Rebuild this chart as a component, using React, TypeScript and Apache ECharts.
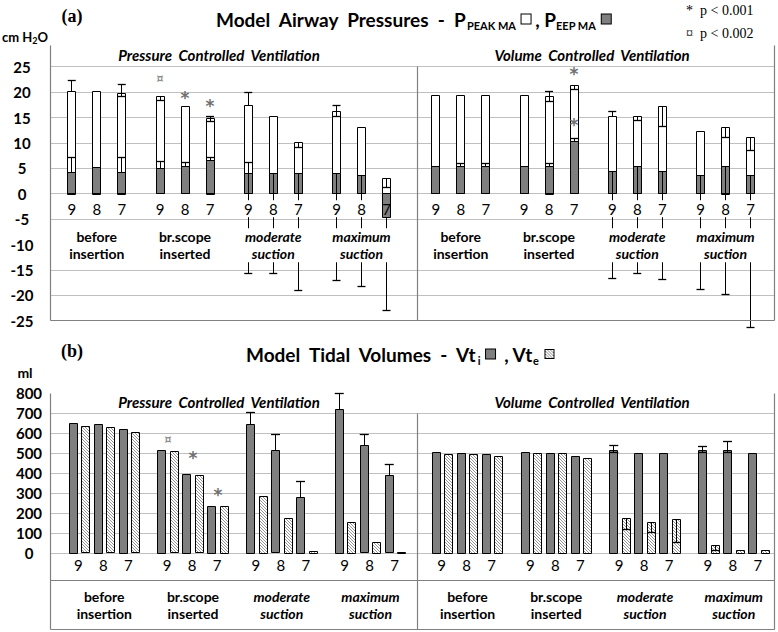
import React, { useEffect, useRef } from 'react';
import * as echarts from 'echarts';

const FONT = 'Lato, "Noto Sans", sans-serif';
const SERIF = '"Liberation Serif", "DejaVu Serif", serif';

// ---------- categories ----------
const modes = ['Pressure  Controlled  Ventilation', 'Volume  Controlled  Ventilation'];
const phases = ['before\ninsertion', 'br.scope\ninserted', 'moderate\nsuction', 'maximum\nsuction'];
const phaseItalic = [false, false, true, true];
const settings = ['9', '8', '7'];

// ---------- (a) airway pressures, cm H2O (phase x setting 9,8,7) ----------
const pcvPeak = [20.2, 20.2, 19.8, 19.1, 17.2, 14.9, 17.3, 15.1, 10.1, 16.1, 13.0, 3.0];
const pcvPeakLo = [null, null, 19.2, 18.4, null, 14.3, null, null, 9.0, 15.2, null, 1.2];
const pcvPeakHi = [22.3, null, 21.4, null, null, 15.1, 20.0, null, null, 17.4, null, null];
const pcvPeep = [4.2, 5.2, 4.1, 4.9, 5.3, 6.5, 4.0, 4.0, 4.0, 4.0, 3.5, -4.8];
const pcvPeepLo = [null, null, null, null, null, null, -15.8, -15.8, -19.0, -17.1, -18.3, -23.0];
const pcvPeepHi = [7.2, null, 7.1, 6.3, 6.2, 7.2, 6.2, null, null, null, null, null];

const vcvPeak = [19.3, 19.3, 19.3, 19.3, 19.2, 21.3, 15.2, 15.1, 17.2, 12.3, 13.1, 11.1];
const vcvPeakLo = [null, null, null, null, 18.2, 20.5, null, 14.5, 13.3, null, 11.1, 8.5];
const vcvPeakHi = [null, null, null, null, 20.2, null, 16.1, null, null, null, null, null];
const vcvPeep = [5.4, 5.4, 5.4, 5.4, 5.4, 10.2, 4.3, 5.4, 4.3, 3.6, 5.4, 3.6];
const vcvPeepLo = [null, null, null, null, null, null, -16.7, -15.8, -16.8, -18.8, -19.8, -26.3];
const vcvPeepHi = [null, 5.9, 5.9, null, 5.9, 10.9, null, null, null, null, null, null];

const pTicks = [-25, -20, -15, -10, -5, 0, 5, 10, 15, 20, 25];

// significance marks in (a)
const pMarkMode = [0, 0, 0, 1, 1];
const pMarkPhase = [1, 1, 1, 1, 1];
const pMarkSetting = [0, 1, 2, 2, 2];
const pMarkValue = [22.7, 19.5, 17.8, 24.1, 14.1];
const pMarkSymbol = ['¤', '*', '*', '*', '*'];

// ---------- (b) tidal volumes, ml ----------
const pcvVti = [649, 644, 620, 515, 396, 233, 644, 512, 279, 718, 537, 387];
const pcvVte = [632, 627, 602, 507, 387, 233, 286, 175, 10, 155, 53, 4];
const pcvVtiHi = [null, null, null, null, null, null, 702, 595, 357, 798, 595, 446];
const pcvVtiLo = [null, null, null, null, null, null, null, null, null, null, null, null];
const pcvVteLo = [null, null, null, null, null, null, null, null, null, null, null, null];

const vcvVti = [504, 499, 494, 504, 499, 486, 515, 499, 499, 515, 515, 499];
const vcvVte = [494, 494, 486, 499, 499, 474, 175, 153, 170, 38, 16, 16];
const vcvVtiHi = [null, null, null, null, null, null, 540, null, null, 535, 560, null];
const vcvVtiLo = [null, null, null, null, null, null, 505, null, null, 505, 505, null];
const vcvVteLo = [null, null, null, null, null, null, 120, 103, 53, 12, null, null];

const vTicks = [0, 100, 200, 300, 400, 500, 600, 700, 800];

const vMarkMode = [0, 0, 0];
const vMarkPhase = [1, 1, 1];
const vMarkSetting = [0, 1, 2];
const vMarkValue = [570, 490, 305];
const vMarkSymbol = ['¤', '*', '*'];

// ---------- layout (slot units along hidden x axis) ----------
const XMAX = 28.96;
const TOP_X0 = [0.87, 15.43];
const TOP_STEP = 3.53;
const BOT_X0 = [1.17, 15.7];
const BOT_STEP = 3.55;

const GRID_COLOR = '#c0c0c0';
const FRAME_COLOR = '#808080';
const DARK = '#7f7f7f';

const crisp = (v: number) => Math.round(v - 0.5) + 0.5;

type PItem = { x: number; peak: number; peakLo: any; peakHi: any; peep: number; peepLo: any; peepHi: any; label: string };
type VItem = { x: number; vti: number; vte: number; vtiHi: any; vtiLo: any; vteLo: any; label: string };

const pSets = [
  [pcvPeak, pcvPeakLo, pcvPeakHi, pcvPeep, pcvPeepLo, pcvPeepHi],
  [vcvPeak, vcvPeakLo, vcvPeakHi, vcvPeep, vcvPeepLo, vcvPeepHi],
];
const vSets = [
  [pcvVti, pcvVte, pcvVtiHi, pcvVtiLo, pcvVteLo],
  [vcvVti, vcvVte, vcvVtiHi, vcvVtiLo, vcvVteLo],
];

const pItems: PItem[] = [];
const vItems: VItem[] = [];
modes.forEach((_, m) => {
  phases.forEach((__, g) => {
    settings.forEach((s, k) => {
      const i = g * 3 + k;
      const a = pSets[m];
      pItems.push({
        x: TOP_X0[m] + g * TOP_STEP + k,
        peak: a[0][i] as number, peakLo: a[1][i], peakHi: a[2][i],
        peep: a[3][i] as number, peepLo: a[4][i], peepHi: a[5][i], label: s,
      });
      const b = vSets[m];
      vItems.push({
        x: BOT_X0[m] + g * BOT_STEP + k,
        vti: b[0][i] as number, vte: b[1][i] as number, vtiHi: b[2][i], vtiLo: b[3][i], vteLo: b[4][i], label: s,
      });
    });
  });
});

const topGroupX: number[] = [];
const botGroupX: number[] = [];
const groupText: string[] = [];
const groupItalic: boolean[] = [];
modes.forEach((_, m) => phases.forEach((p, g) => {
  topGroupX.push(TOP_X0[m] + g * TOP_STEP + 1);
  botGroupX.push(BOT_X0[m] + g * BOT_STEP + 1);
  groupText.push(p);
  groupItalic.push(phaseItalic[g]);
}));

function txt(text: string, x: number, y: number, o: any = {}) {
  return {
    type: 'text', x, y, silent: true,
    style: {
      text, fill: o.fill || '#000', fontFamily: o.fontFamily || FONT, fontSize: o.fontSize || 14,
      fontWeight: o.fontWeight || 'normal', fontStyle: o.fontStyle || 'normal',
      align: o.align || 'center', textAlign: o.align || 'center',
      verticalAlign: o.verticalAlign || 'middle', textVerticalAlign: o.verticalAlign || 'middle',
      lineHeight: o.lineHeight, backgroundColor: o.backgroundColor, padding: o.padding, rich: o.rich,
    },
  };
}

function errBar(children: any[], cx: number, yFrom: number, yTo: number, capW: number) {
  children.push({ type: 'line', shape: { x1: crisp(cx), y1: yFrom, x2: crisp(cx), y2: yTo }, style: { stroke: '#000', lineWidth: 1 } });
  children.push({ type: 'line', shape: { x1: cx - capW / 2, y1: crisp(yTo), x2: cx + capW / 2, y2: crisp(yTo) }, style: { stroke: '#000', lineWidth: 1.3 } });
}

function barRect(cx: number, bw: number, ya: number, yb: number, fill: string) {
  const top = Math.min(ya, yb);
  const h = Math.abs(ya - yb);
  return { type: 'rect', shape: { x: crisp(cx - bw / 2), y: crisp(top), width: Math.round(bw), height: Math.max(1, Math.round(h)) }, style: { fill, stroke: '#000', lineWidth: 1 } };
}

function hatchRect(children: any[], cx: number, bw: number, ya: number, yb: number) {
  const x0 = crisp(cx - bw / 2);
  const w = Math.round(bw);
  const yT = crisp(Math.min(ya, yb));
  const h = Math.max(1, Math.round(Math.abs(ya - yb)));
  children.push({ type: 'rect', shape: { x: x0, y: yT, width: w, height: h }, style: { fill: '#fff', stroke: null } });
  for (let k = -h; k < w; k += 3) {
    const a = Math.max(0, k);
    const b = Math.min(w, k + h);
    if (b - a <= 0.2) continue;
    children.push({ type: 'line', shape: { x1: x0 + a, y1: yT + a - k, x2: x0 + b, y2: yT + b - k }, style: { stroke: '#8a8a8a', lineWidth: 0.9 } });
  }
  children.push({ type: 'rect', shape: { x: x0, y: yT, width: w, height: h }, style: { fill: 'none', stroke: '#000', lineWidth: 1 } });
}

function renderPressure(params: any, api: any) {
  const d = pItems[params.dataIndex];
  const [cx, y0] = api.coord([d.x, 0]);
  const Y = (v: number) => api.coord([d.x, v])[1];
  const bw = api.size([0.31, 0])[0];
  const ch: any[] = [];
  ch.push(barRect(cx, bw, y0, Y(d.peak), '#fff'));
  ch.push(barRect(cx, bw, y0, Y(d.peep), DARK));
  const cap = 8;
  if (d.peakHi != null) errBar(ch, cx, Y(d.peak), Y(d.peakHi), cap);
  if (d.peakLo != null) errBar(ch, cx, Y(d.peak), Y(d.peakLo), cap);
  if (d.peepHi != null) errBar(ch, cx, Y(d.peep), Y(d.peepHi), cap);
  if (d.peepLo != null) errBar(ch, cx, Y(d.peep), Y(d.peepLo), cap);
  ch.push(txt(d.label, cx, y0 + 15, { fontSize: 15, backgroundColor: d.peep < 0 ? 'transparent' : '#fff', padding: [1, 1] }));
  return { type: 'group', children: ch };
}

function renderVolume(params: any, api: any) {
  const d = vItems[params.dataIndex];
  const [cx, y0] = api.coord([d.x, 0]);
  const Y = (v: number) => api.coord([d.x, v])[1];
  const bw = api.size([0.32, 0])[0];
  const off = api.size([0.25, 0])[0];
  const ch: any[] = [];
  ch.push(barRect(cx - off, bw, y0, Y(d.vti), DARK));
  hatchRect(ch, cx + off, bw, y0, Y(d.vte));
  const cap = 9;
  if (d.vtiHi != null) errBar(ch, cx - off, Y(d.vti), Y(d.vtiHi), cap);
  if (d.vtiLo != null) errBar(ch, cx - off, Y(d.vti), Y(d.vtiLo), cap);
  if (d.vteLo != null) errBar(ch, cx + off, Y(d.vte), Y(d.vteLo), 8);
  ch.push(txt(d.label, cx - 1, y0 + 12, { fontSize: 15 }));
  return { type: 'group', children: ch };
}

function groupLabelRenderer(xs: number[], dy: number, lh: number, bg: boolean) {
  return (params: any, api: any) => {
    const i = params.dataIndex;
    const [px, y0] = api.coord([xs[i], 0]);
    return txt(groupText[i], px, y0 + dy, {
      fontSize: 14, fontWeight: 'bold', fontStyle: groupItalic[i] ? 'italic' : 'normal', lineHeight: lh,
      backgroundColor: bg ? '#fff' : undefined, padding: bg ? [0, 3] : undefined,
    });
  };
}

function markRenderer(syms: string[]) {
  return (params: any, api: any) => {
    const i = params.dataIndex;
    const [px, py] = api.coord([api.value(0), api.value(1)]);
    const isStar = syms[i] === '*';
    return txt(syms[i], px, py + (isStar ? 3 : 0), {
      fontSize: isStar ? 17 : 13, fill: isStar ? '#707070' : '#8c8c8c', fontWeight: 'bold',
      fontFamily: isStar ? '"DejaVu Sans", sans-serif' : FONT,
    });
  };
}

function hatchUrl(): string {
  const c = document.createElement('canvas');
  c.width = 10; c.height = 10;
  const g = c.getContext('2d');
  if (!g) return '';
  g.fillStyle = '#fff'; g.fillRect(0, 0, 10, 10);
  g.strokeStyle = '#888'; g.lineWidth = 1;
  for (let k = -10; k < 10; k += 3) { g.beginPath(); g.moveTo(k, 0); g.lineTo(k + 10, 10); g.stroke(); }
  g.strokeStyle = '#000'; g.lineWidth = 1; g.strokeRect(0.5, 0.5, 9, 9);
  return c.toDataURL();
}

function line(x1: number, y1: number, x2: number, y2: number) {
  return { type: 'line', silent: true, z: 20, shape: { x1: crisp(x1), y1: crisp(y1), x2: crisp(x2), y2: crisp(y2) }, style: { stroke: FRAME_COLOR, lineWidth: 1.2 } };
}

function buildOption(): any {
  const gL = 50, gW = 724;
  const topTop = 66.7, topH = 254;
  const botTop = 393.3, botH = 160;
  const topBottom = topTop + topH;
  const botFrameBottom = 629;
  const divX = 417;

  const topGridColors = pTicks.map((t) => (t === -25 || t === -10 ? 'rgba(0,0,0,0)' : GRID_COLOR));
  const botGridColors = vTicks.map((t) => (t === 800 ? 'rgba(0,0,0,0)' : GRID_COLOR));

  const subTitle = { fontFamily: FONT, fontSize: 19, fontWeight: 'bold', fill: '#000', lineHeight: 24 };
  const sub = { fontFamily: FONT, fontSize: 11, fontWeight: 'bold', fill: '#000', verticalAlign: 'bottom', lineHeight: 16, padding: [0, 1, 0, 0] };
  const box = { width: 9, height: 9, borderColor: '#000', borderWidth: 1 };
  const hatch = hatchUrl();

  const graphic: any[] = [
    txt('(a)', 72, 16, { fontFamily: SERIF, fontSize: 18, fontWeight: 'bold' }),
    txt('{t|Model  Airway  Pressures  -  P}{s|PEAK MA}{t| }{w|}{t| , P}{s|EEP MA}{t| }{g|}', 216, 19, {
      align: 'left', rich: { t: subTitle, s: sub, w: { ...box, backgroundColor: '#fff' }, g: { ...box, backgroundColor: DARK } },
    }),
    txt('*  p < 0.001', 686, 10, { fontFamily: SERIF, fontSize: 14, align: 'left' }),
    txt('¤  p < 0.002', 686, 33, { fontFamily: SERIF, fontSize: 14, align: 'left' }),
    txt('{a|cm H}{b|2}{a|O}', 2, 37, {
      align: 'left', rich: { a: { fontFamily: FONT, fontSize: 13, fontWeight: 'bold', fill: '#000', lineHeight: 16 }, b: { fontFamily: FONT, fontSize: 9, fontWeight: 'bold', fill: '#000', verticalAlign: 'bottom', lineHeight: 12 } },
    }),
    txt(modes[0], 219, 55, { fontSize: 15, fontWeight: 'bold', fontStyle: 'italic' }),
    txt(modes[1], 592, 55, { fontSize: 15, fontWeight: 'bold', fontStyle: 'italic' }),

    txt('(b)', 72, 351, { fontFamily: SERIF, fontSize: 18, fontWeight: 'bold' }),
    txt('{t|Model  Tidal  Volumes  -  Vt}{s|i}{t| }{g|}{t|  , Vt}{s|e}{t| }{h|}', 246, 354, {
      align: 'left', rich: { t: subTitle, s: sub, g: { ...box, backgroundColor: DARK }, h: { width: 10, height: 10, backgroundColor: { image: hatch } } },
    }),
    txt('ml', 25, 372, { fontSize: 14, fontWeight: 'bold' }),
    txt(modes[0], 219, 402, { fontSize: 15, fontWeight: 'bold', fontStyle: 'italic' }),
    txt(modes[1], 592, 402, { fontSize: 15, fontWeight: 'bold', fontStyle: 'italic' }),

    // frame (a)
    line(gL, 45, gL, topBottom),
    line(gL + gW, 45, gL + gW, topBottom),
    line(gL, topBottom, gL + gW, topBottom),
    line(divX, topTop, divX, topBottom),
    // frame (b)
    line(gL, botTop, gL, botFrameBottom),
    line(gL + gW, botTop, gL + gW, botFrameBottom),
    line(gL, botFrameBottom, gL + gW, botFrameBottom),
    line(gL, 580, gL + gW, 580),
    line(divX, botTop + 20, divX, botFrameBottom),
  ];

  const yLabel = { fontFamily: FONT, fontWeight: 'bold', fontSize: 15, color: '#000', align: 'center' };

  return {
    animation: false,
    backgroundColor: '#fff',
    grid: [
      { left: gL, width: gW, top: topTop, height: topH },
      { left: gL, width: gW, top: botTop, height: botH },
    ],
    xAxis: [
      { gridIndex: 0, type: 'value', min: 0, max: XMAX, show: false },
      { gridIndex: 1, type: 'value', min: 0, max: XMAX, show: false },
    ],
    yAxis: [
      {
        gridIndex: 0, type: 'value', min: -25, max: 25, interval: 5,
        axisLine: { show: false }, axisTick: { show: false },
        axisLabel: { ...yLabel, margin: 28 },
        splitLine: { show: true, lineStyle: { color: topGridColors, width: 1 } },
      },
      {
        gridIndex: 1, type: 'value', min: 0, max: 800, interval: 100,
        axisLine: { show: false }, axisTick: { show: false },
        axisLabel: { ...yLabel, margin: 21 },
        splitLine: { show: true, lineStyle: { color: botGridColors, width: 1 } },
      },
    ],
    series: [
      { type: 'custom', xAxisIndex: 0, yAxisIndex: 0, z: 2, silent: true, clip: false,
        data: pItems.map((d) => [d.x, d.peak]), renderItem: renderPressure },
      { type: 'custom', xAxisIndex: 0, yAxisIndex: 0, z: 5, silent: true, clip: false,
        data: topGroupX.map((x) => [x, 0]), renderItem: groupLabelRenderer(topGroupX, 51.5, 17, true) },
      { type: 'custom', xAxisIndex: 0, yAxisIndex: 0, z: 6, silent: true, clip: false,
        data: pMarkValue.map((v, i) => [TOP_X0[pMarkMode[i]] + pMarkPhase[i] * TOP_STEP + pMarkSetting[i], v]),
        renderItem: markRenderer(pMarkSymbol) },
      { type: 'custom', xAxisIndex: 1, yAxisIndex: 1, z: 2, silent: true, clip: false,
        data: vItems.map((d) => [d.x, d.vti]), renderItem: renderVolume },
      { type: 'custom', xAxisIndex: 1, yAxisIndex: 1, z: 5, silent: true, clip: false,
        data: botGroupX.map((x) => [x, 0]), renderItem: groupLabelRenderer(botGroupX, 51.5, 16.5, false) },
      { type: 'custom', xAxisIndex: 1, yAxisIndex: 1, z: 6, silent: true, clip: false,
        data: vMarkValue.map((v, i) => [BOT_X0[vMarkMode[i]] + vMarkPhase[i] * BOT_STEP + vMarkSetting[i], v]),
        renderItem: markRenderer(vMarkSymbol) },
    ],
    graphic: { elements: graphic.map((g) => ({ z: 30, ...g })) },
  };
}

export default function App() {
  const ref = useRef<HTMLDivElement>(null);
  useEffect(() => {
    const el = ref.current;
    if (!el) return;
    const chart = echarts.init(el, undefined, { renderer: 'svg' });
    chart.setOption(buildOption());
    return () => chart.dispose();
  }, []);
  return <div ref={ref} style={{ position: 'absolute', left: 0, top: 0, width: 778, height: 632, background: '#fff' }} />;
}
